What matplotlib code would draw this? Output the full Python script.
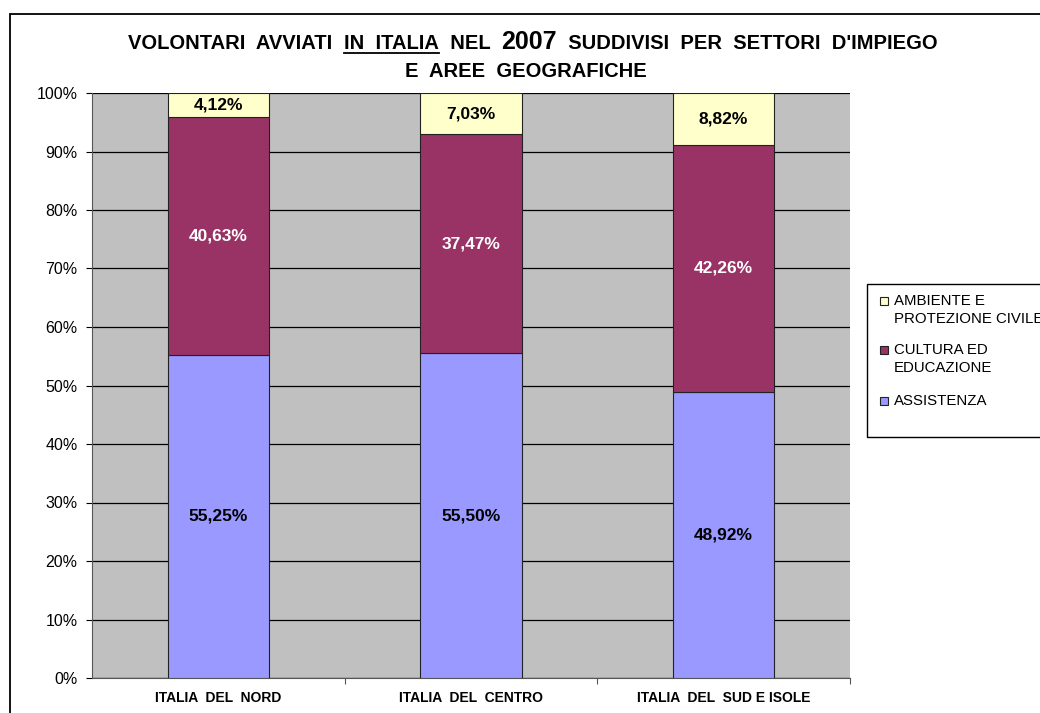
import matplotlib.pyplot as plt
from matplotlib.patches import Rectangle
from matplotlib.lines import Line2D
import numpy as np

categories = ['ITALIA  DEL  NORD', 'ITALIA  DEL  CENTRO', 'ITALIA  DEL  SUD E ISOLE']
assistenza = [55.25, 55.50, 48.92]
cultura = [40.63, 37.47, 42.26]
ambiente = [4.12, 7.03, 8.82]
series_names = ['ASSISTENZA', 'CULTURA ED\nEDUCAZIONE', 'AMBIENTE E\nPROTEZIONE CIVILE']
colors = ['#9999FF', '#993366', '#FFFFCC']
label_colors = ['black', 'white', 'black']

W, H = 1040, 713
plt.rcParams['font.family'] = ['Liberation Sans', 'DejaVu Sans']
fig = plt.figure(figsize=(W / 100, H / 100), dpi=100)

# outer chart border
fig.patches.append(Rectangle((10 / W, -0.05), 1.2, (H - 14) / H + 0.05,
                             transform=fig.transFigure, fill=False,
                             edgecolor='black', linewidth=1.3))

ax = fig.add_axes([92 / W, (H - 678) / H, (850 - 92) / W, (678 - 93) / H])
ax.set_facecolor('#C0C0C0')

x = np.arange(len(categories))
width = 0.4
bottom = np.zeros(len(categories))
for vals, name, c, lc in zip([assistenza, cultura, ambiente], series_names, colors, label_colors):
    vals = np.array(vals)
    ax.bar(x, vals, width, bottom=bottom, color=c, edgecolor='#222222',
           linewidth=0.8, label=name, zorder=3)
    for xi, v, b in zip(x, vals, bottom):
        ax.text(xi, b + v / 2, ('%.2f%%' % v).replace('.', ','), ha='center', va='center',
                color=lc, fontsize=12.5, fontweight='bold', zorder=4)
    bottom += vals

ax.set_xlim(-0.5, 2.5)
ax.set_ylim(0, 100)
ax.set_yticks(np.arange(0, 101, 10))
ax.set_yticklabels(['%d%%' % v for v in range(0, 101, 10)], fontsize=11.5)
ax.yaxis.grid(True, color='black', linewidth=0.9, zorder=1)
ax.set_axisbelow(True)
ax.set_xticks([0.5, 1.5, 2.5], minor=False)
ax.set_xticklabels([])
ax.tick_params(axis='x', length=4, width=0.8, colors='#555555')
ax.tick_params(axis='y', length=4.5, width=0.8, pad=6)
ax.set_xticks(x, minor=True)
ax.set_xticklabels(categories, minor=True, fontsize=10, fontweight='bold')
ax.tick_params(axis='x', which='minor', length=0, pad=9)
for s in ['top', 'right']:
    ax.spines[s].set_visible(False)
ax.spines['left'].set_color('#555555')
ax.spines['bottom'].set_color('#555555')

# legend box (drawn by hand so the swatch sits on the first text line)
fig.patches.append(Rectangle((867 / W, 1 - 437 / H), 0.3, (437 - 284) / H,
                             transform=fig.transFigure, fill=False,
                             edgecolor='black', linewidth=1.0))
leg_order = [2, 1, 0]
leg_tops = [297, 346, 397]
for i, yt in zip(leg_order, leg_tops):
    fig.patches.append(Rectangle((880 / W, 1 - (yt + 8) / H), 7.5 / W, 8 / H,
                                 transform=fig.transFigure, facecolor=colors[i],
                                 edgecolor='#222222', linewidth=0.8))
    fig.text(894 / W, 1 - (yt - 3) / H, series_names[i], fontsize=10.8, ha='left',
             va='top', linespacing=1.4)

# title built piece by piece so "IN ITALIA" can be underlined and "2007" enlarged
pieces = [('VOLONTARI  AVVIATI  ', 14.5, False), ('IN  ITALIA', 14.5, True),
          ('  NEL  ', 14.5, False), ('2007', 18, False),
          ('  SUDDIVISI  PER  SETTORI  D\'IMPIEGO', 14.5, False)]
renderer = fig.canvas.get_renderer()
texts = []
xpos = 0
y1 = 1 - 49 / H
for s, fs, ul in pieces:
    t = fig.text(xpos / W, y1, s, fontsize=fs, fontweight='bold', ha='left',
                 va='baseline')
    w = t.get_window_extent(renderer).width
    texts.append((t, xpos, w, ul))
    xpos += w
total = xpos
start = 533 - total / 2
for t, xp, w, ul in texts:
    t.set_x((start + xp) / W)
    if ul:
        fig.lines.append(Line2D([(start + xp) / W, (start + xp + w) / W],
                                [1 - 53 / H, 1 - 53 / H], transform=fig.transFigure,
                                color='black', linewidth=1.3))
fig.text(526 / W, 1 - 77 / H, 'E  AREE  GEOGRAFICHE', fontsize=14.5, fontweight='bold',
         ha='center', va='baseline')

plt.savefig('out.png', dpi=100)
plt.close()
